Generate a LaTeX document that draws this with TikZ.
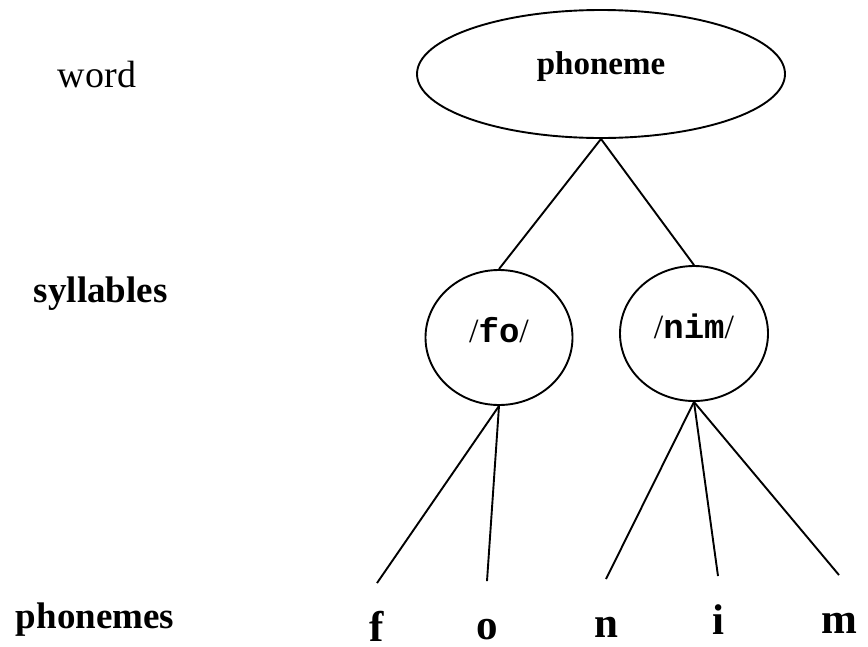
\documentclass[tikz,border=0pt]{standalone}
\usepackage{fontspec}
\setmainfont{Liberation Serif}
\newfontfamily\monob{Liberation Mono}
\usetikzlibrary{shapes.geometric}
\begin{document}
\begin{tikzpicture}[x=1pt,y=-1pt, line width=1.9pt,
  lvl/.style={anchor=base west, inner sep=0pt, font=\fontsize{37}{40}\selectfont\bfseries},
  oval/.style={draw, ellipse, inner sep=0pt},
  phon/.style={anchor=base, inner sep=0pt, text height=57pt, text depth=0pt, font=\fontsize{43}{46}\selectfont\bfseries},
  syl/.style={oval, minimum width=147pt, minimum height=135pt, text height=20pt, text depth=10pt, font=\fontsize{34}{36}\selectfont},
  edge/.style={draw, line width=1.9pt}
]
\useasboundingbox (0,0) rectangle (868,646);

% level labels
\node[anchor=base west, inner sep=0pt, font=\fontsize{38}{40}\selectfont] (lw) at (57,87) {word};
\node[lvl] (ls) at (33,302) {syllables};
\node[lvl] (lp) at (15,628) {phonemes};

% word
\node[oval, minimum width=368pt, minimum height=128pt, text height=12pt, text depth=12pt,
      font=\fontsize{33}{36}\selectfont\bfseries] (w) at (601,74) {phoneme};

% syllables
\node[syl] (s1) at (499,337.5) {/{\monob\bfseries fo}/};
\node[syl, minimum width=148pt] (s2) at (694,333.5) {/{\monob\bfseries nim}/};

% phonemes
\node[phon] (p1) at (377,641) {f};
\node[phon] (p2) at (487,639) {o};
\node[phon] (p3) at (606,637) {n};
\node[phon] (p4) at (718,634) {i};
\node[phon] (p5) at (839,633) {m};

% connectors
\draw[edge] (w.south) -- (s1.north);
\draw[edge] (w.south) -- (s2.north);
\draw[edge] (s1.south) -- (p1.north);
\draw[edge] (s1.south) -- (p2.north);
\draw[edge] (s2.south) -- (p3.north);
\draw[edge] (s2.south) -- (p4.north);
\draw[edge] (s2.south) -- (p5.north);
\end{tikzpicture}
\end{document}
